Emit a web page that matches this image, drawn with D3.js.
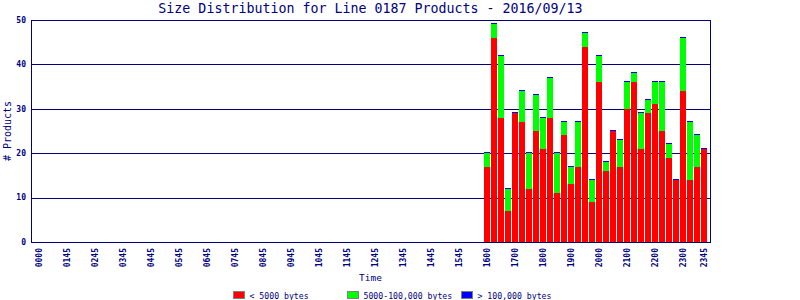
<!DOCTYPE html>
<html>
<head>
<meta charset="utf-8">
<script src="https://cdn.jsdelivr.net/npm/d3@7"></script>
<style>
  body { margin: 0; background: #fff; }
  svg { display: block; }
</style>
</head>
<body>
<script>
// bars only exist from 1600 onward, one per 15 minutes
const times = ["1600","1615","1630","1645","1700","1715","1730","1745",
               "1800","1815","1830","1845","1900","1915","1930","1945",
               "2000","2015","2030","2045","2100","2115","2130","2145",
               "2200","2215","2230","2245","2300","2315","2330","2345"];
const small  = [17,46,28,7,29,27,12,25,21,28,11,24,13,17,44,9,
                36,16,25,17,30,36,21,29,31,25,19,14,34,14,17,21];
const medium = [3,3,14,5,0,7,8,8,7,9,9,3,4,10,3,5,
                6,2,0,6,6,2,8,3,5,11,3,0,12,13,7,0];
const large  = [0,0,0,0,0,0,0,0,0,0,0,0,0,0,0,0,
                0,0,0,0,0,0,0,0,0,0,0,0,0,0,0,0];
const tickLabels = ["0000","0145","0245","0345","0445","0545","0645","0745",
                    "0845","0945","1045","1145","1245","1345","1445","1545",
                    "1600","1700","1800","1900","2000","2100","2200","2300","2345"];
const yTicks = [0,10,20,30,40,50];
const seriesNames = ["< 5000 bytes", "5000-100,000 bytes", "> 100,000 bytes"];
const colors = ["#ff0000", "#00ff00", "#0000ff"];

const W = 800, H = 300;
const navy = "#000080";
const mono = "'DejaVu Sans Mono', monospace";
const plot = {left: 31, right: 710, top: 20, bottom: 242};

const svg = d3.select("body").append("svg")
    .attr("width", W).attr("height", H)
    .attr("shape-rendering", "crispEdges");

const slots = d3.range(96);
const x = d3.scaleBand().domain(slots).range([35.5, 707.5]);
const y = d3.scaleLinear().domain([0, 50]).range([plot.bottom, plot.top]);

const slotOf = t => +t.slice(0, 2) * 4 + (+t.slice(2)) / 15;

// grid
svg.append("g").selectAll("line").data(yTicks.slice(1)).join("line")
    .attr("x1", plot.left).attr("x2", plot.right)
    .attr("y1", d => y(d) + 0.5).attr("y2", d => y(d) + 0.5)
    .attr("stroke", navy);

// stacked bars
const rows = times.map((t, i) => ({t, v: [small[i], medium[i], large[i]]}));
const bw = x.bandwidth() - 1.3;
const gBars = svg.append("g");
rows.forEach(r => {
  let base = 0;
  r.v.forEach((v, k) => {
    const y0 = y(base), y1 = y(base + v);
    let h = y0 - y1;
    if (k === 2) h = Math.max(h, 1); // blue cap always shows
    if (h > 0) {
      gBars.append("rect")
          .attr("x", x(slotOf(r.t)) + 0.65)
          .attr("y", y0 - h)
          .attr("width", bw)
          .attr("height", h)
          .attr("fill", colors[k]);
    }
    base += v;
  });
});

// frame
svg.append("rect")
    .attr("x", plot.left + 0.5).attr("y", plot.top + 0.5)
    .attr("width", plot.right - plot.left).attr("height", plot.bottom - plot.top)
    .attr("fill", "none").attr("stroke", navy);

// y tick labels
svg.append("g").selectAll("text").data(yTicks).join("text")
    .attr("x", 26).attr("y", d => y(d)).attr("dy", "0.35em")
    .attr("text-anchor", "end")
    .attr("font-family", mono).attr("font-size", 8).attr("font-weight", "bold")
    .attr("fill", navy)
    .text(d => d);

// x tick labels
svg.append("g").selectAll("text").data(tickLabels).join("text")
    .attr("transform", (d, i) => {
      const s = i < tickLabels.length - 1 ? i * 4 : slots.length - 1;
      return `translate(${x(s) + x.bandwidth() / 2},248) rotate(-90)`;
    })
    .attr("dy", "0.35em")
    .attr("text-anchor", "end")
    .attr("font-family", mono).attr("font-size", 8).attr("font-weight", "bold")
    .attr("fill", navy)
    .text(d => d);

// titles
svg.append("text")
    .attr("x", (plot.left + plot.right) / 2).attr("y", 13)
    .attr("text-anchor", "middle")
    .attr("font-family", mono).attr("font-size", 13.3)
    .attr("fill", navy)
    .text("Size Distribution for Line 0187 Products - 2016/09/13");

svg.append("text")
    .attr("x", (plot.left + plot.right) / 2).attr("y", 281)
    .attr("text-anchor", "middle")
    .attr("font-family", mono).attr("font-size", 9.5)
    .attr("fill", navy)
    .text("Time");

svg.append("text")
    .attr("transform", "translate(11,131) rotate(-90)")
    .attr("text-anchor", "middle")
    .attr("font-family", mono).attr("font-size", 10)
    .attr("fill", navy)
    .text("# Products");

// legend
const legendX = [233.5, 347.5, 461.5];
const lg = svg.append("g");
seriesNames.forEach((name, k) => {
  lg.append("rect")
      .attr("x", legendX[k]).attr("y", 291.5)
      .attr("width", 11).attr("height", 7)
      .attr("fill", colors[k]).attr("stroke", "#808080");
  lg.append("text")
      .attr("x", legendX[k] + 16).attr("y", 298.5)
      .attr("font-family", mono).attr("font-size", 8.2)
      .attr("fill", navy)
      .text(name);
});
</script>
</body>
</html>
